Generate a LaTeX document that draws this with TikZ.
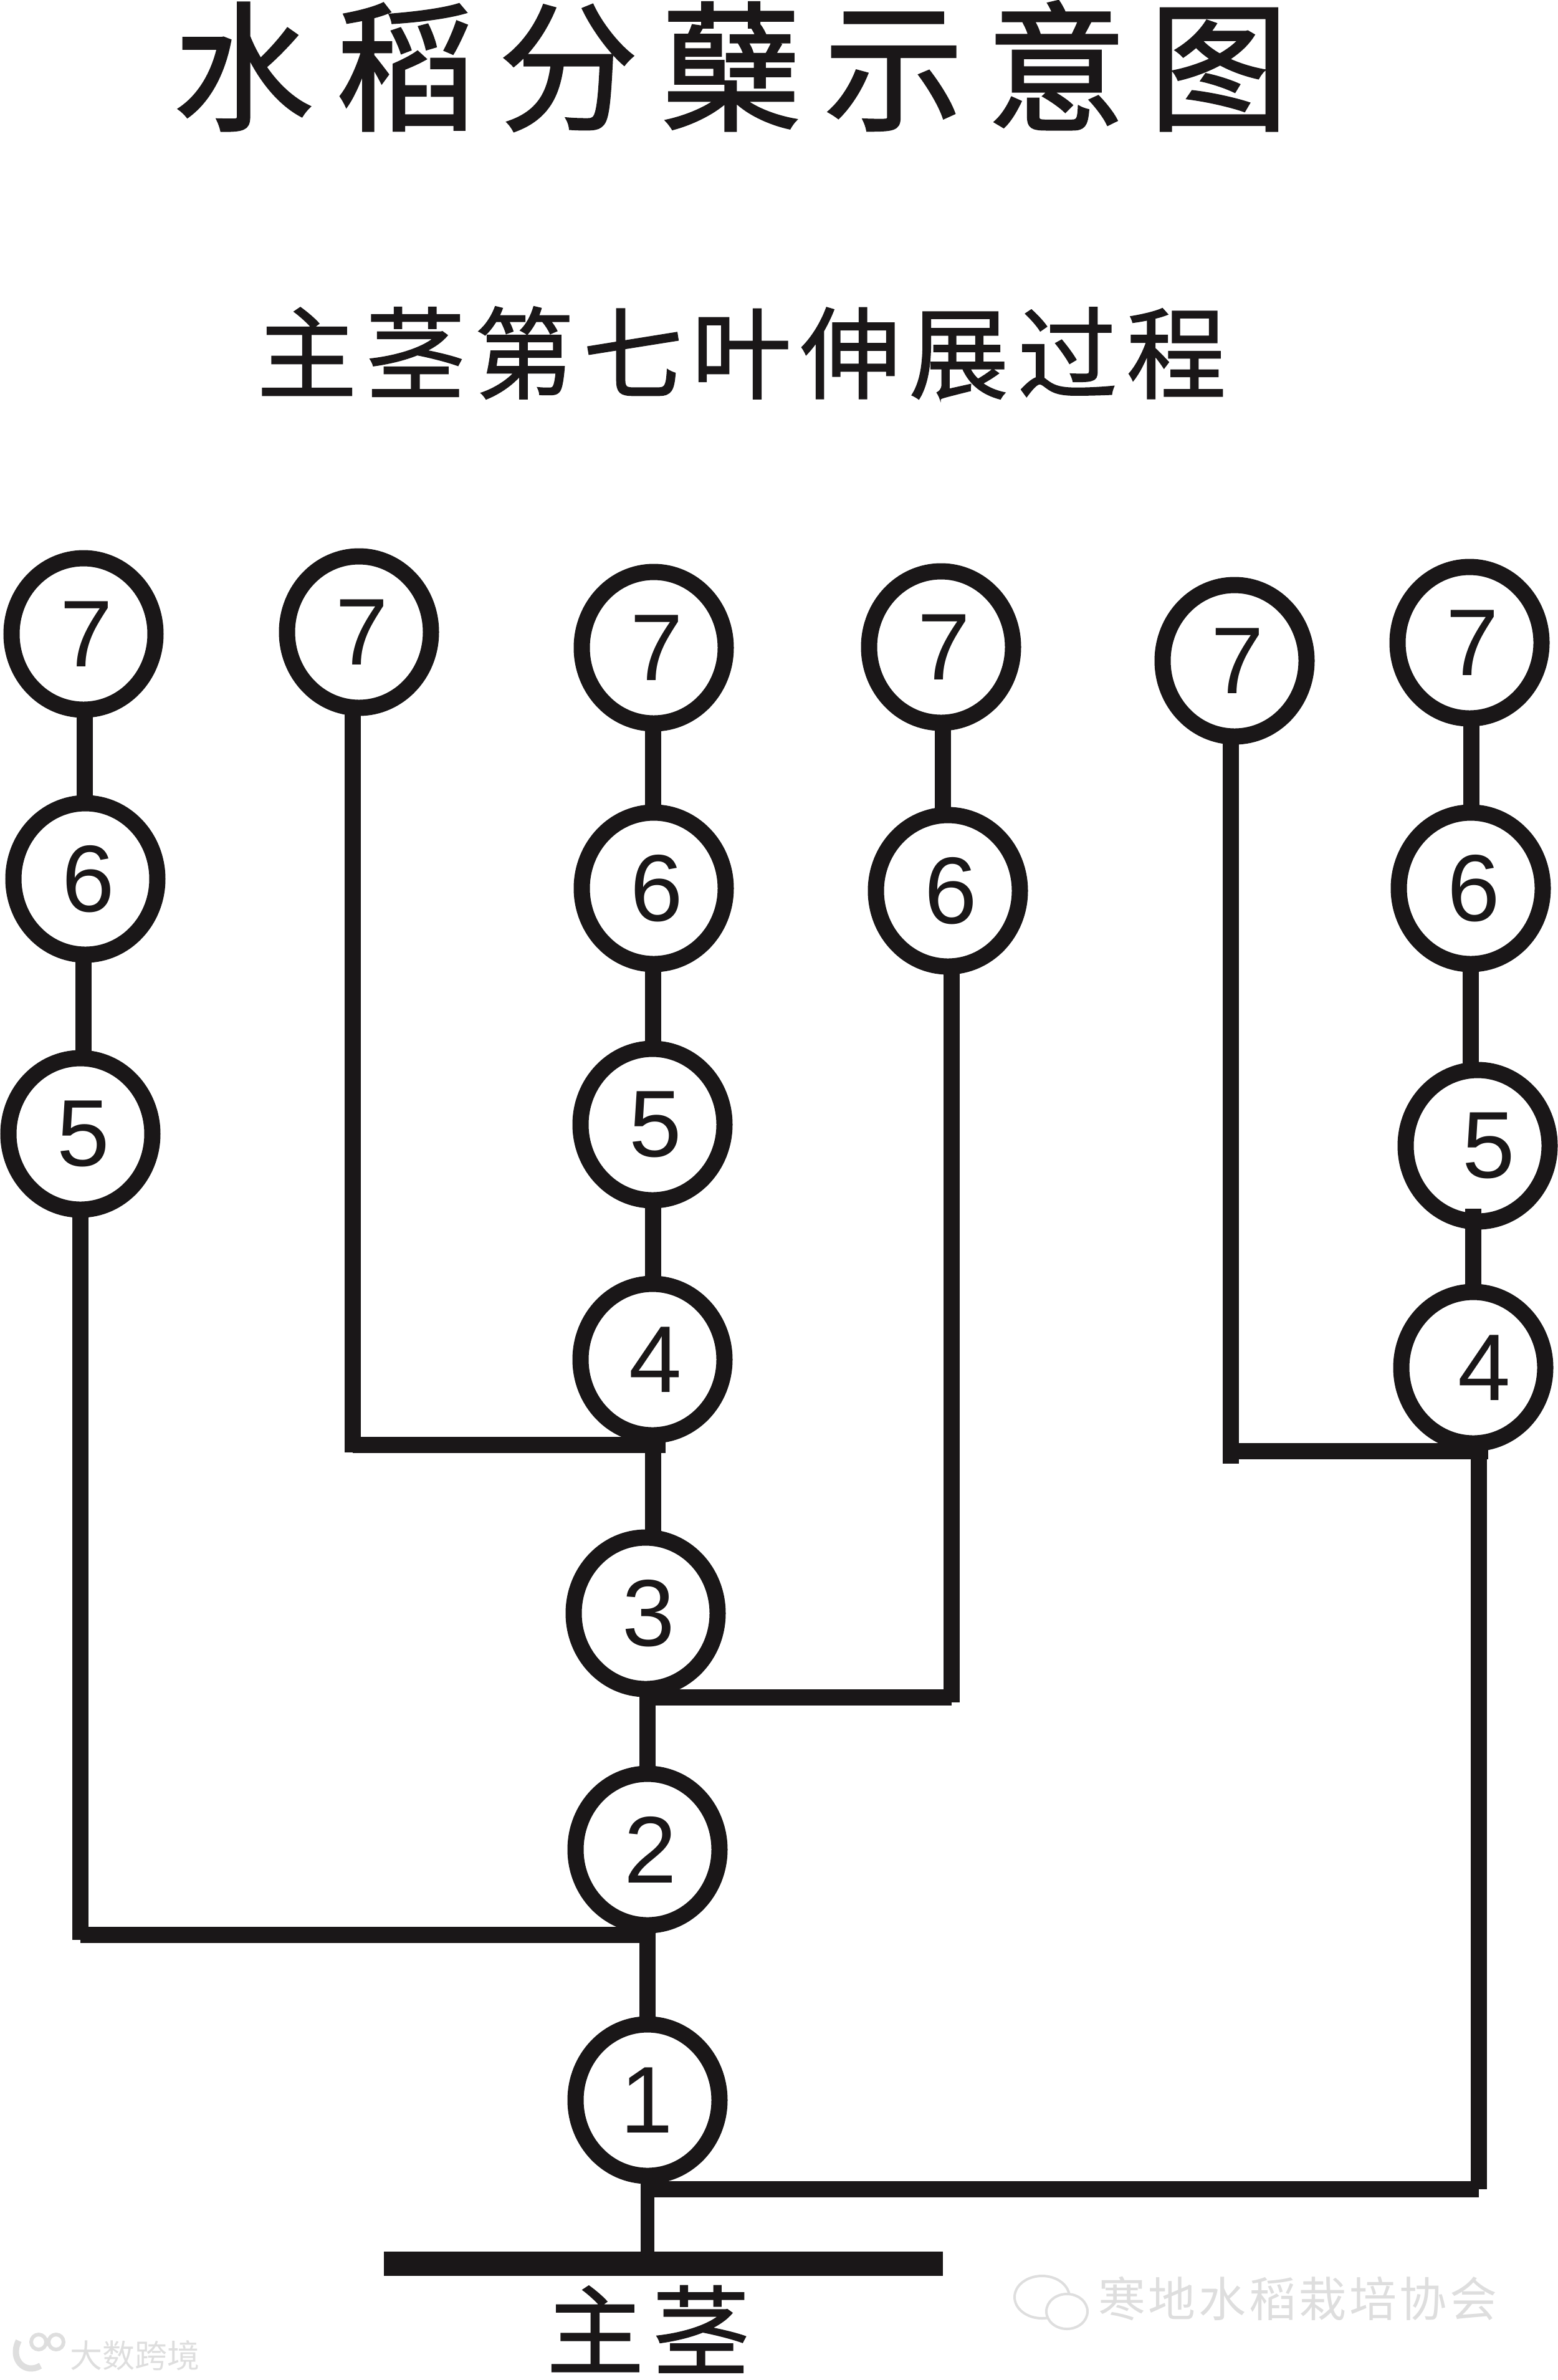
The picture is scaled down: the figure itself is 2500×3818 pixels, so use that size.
\documentclass[tikz,border=0pt]{standalone}
\usepackage{fontspec}
\setmainfont{Liberation Sans}
\newfontfamily\cjktitle[LetterSpace=16.5,FakeBold=1.6]{Noto Sans CJK SC}
\newfontfamily\cjksub[LetterSpace=9,FakeBold=1.2]{Noto Sans CJK SC}
\newfontfamily\cjkmark{Noto Sans CJK SC}
\usetikzlibrary{shapes.geometric}
\definecolor{ink}{HTML}{1A1718}
\definecolor{wm}{HTML}{DEDEDE}
\tikzset{
  leaf/.style={ellipse,draw=ink,fill=white,line width=13pt,minimum width=115.5pt,minimum height=121.5pt,inner sep=0pt,outer sep=0pt,text=ink,font=\fontsize{76}{76}\selectfont,execute at begin node=\hspace*{5pt}},
  wire/.style={draw=ink,line width=13pt,line cap=butt},
  headtext/.style={anchor=west,text=ink,inner sep=0pt}
}
\begin{document}
\begin{tikzpicture}[x=0.5pt,y=-0.5pt]
\useasboundingbox (0,0) rectangle (2500,3818);
\node[headtext,font=\fontsize{112}{112}\selectfont\cjktitle] (title) at (278,106) {水稻分蘖示意图};
\node[headtext,font=\fontsize{80}{80}\selectfont\cjksub] (sub) at (412,566) {主茎第七叶伸展过程};
\node[leaf] (a7) at (134,1017) {7};
\node[leaf] (a6) at (137,1410) {6};
\node[leaf] (a5) at (129,1819) {5};
\node[leaf] (b7) at (576,1014) {7};
\node[leaf] (c7) at (1049,1039) {7};
\node[leaf] (c6) at (1049,1425) {6};
\node[leaf] (c5) at (1047,1804) {5};
\node[leaf] (c4) at (1047,2181) {4};
\node[leaf] (c3) at (1036,2588) {3};
\node[leaf] (c2) at (1039,2967) {2};
\node[leaf] (c1) at (1039,3369) {\hspace*{-6pt}1};
\node[leaf] (d7) at (1510,1038) {7};
\node[leaf] (d6) at (1521,1429) {6};
\node[leaf] (e7) at (1981,1060) {7};
\node[leaf] (f7) at (2358,1031) {7};
\node[leaf] (f6) at (2360,1425) {6};
\node[leaf] (f5) at (2371,1838) {\hspace*{13pt}5};
\node[leaf] (f4) at (2364,2194) {\hspace*{13pt}4};
\node[fill=ink,minimum width=448.5pt,minimum height=19.5pt,inner sep=0pt,outer sep=0pt] (bar) at (1064.5,3631.5) {};
\node[anchor=north,text=ink,inner sep=0pt,font=\fontsize{78}{78}\selectfont\cjksub] (stem) at (1040,3666) {主茎};
% x positions of the wires
\coordinate (xa) at (136,0);
\coordinate (xa2) at (134,0);
\coordinate (xa3) at (129,0);
\coordinate (xb) at (566,0);
\coordinate (xc) at (1048,0);
\coordinate (xm) at (1039,0);
\coordinate (xd) at (1513,0);
\coordinate (xd2) at (1527,0);
\coordinate (xe) at (1975,0);
\coordinate (xf) at (2361,0);
\coordinate (xf2) at (2360,0);
\coordinate (xf3) at (2364,0);
\coordinate (xr) at (2373,0);
% junctions
\coordinate (j1) at (1039,3512);
\coordinate (jr) at (2373,3512);
\coordinate (j2) at (1033,3104);
\coordinate (ja) at (129,3104);
\coordinate (jat) at (129,3112);
\coordinate (j3) at (1039,2723);
\coordinate (jd) at (1527,2723);
\coordinate (jdt) at (1527,2731);
\coordinate (j4) at (1068,2318);
\coordinate (jb) at (566,2318);
\coordinate (jbt) at (566,2330);
\coordinate (j5) at (2388,2328);
\coordinate (je) at (1975,2328);
\coordinate (jet) at (1975,2348);
\coordinate (jrt) at (2373,2328);
\coordinate (f5tip) at (2364,1939);
\path[wire] (a7.south -| xa) -- (a6.north -| xa);
\path[wire] (a6.south -| xa2) -- (a5.north -| xa2);
\path[wire] (c7.south -| xc) -- (c6.north -| xc);
\path[wire] (c6.south -| xc) -- (c5.north -| xc);
\path[wire] (c5.south -| xc) -- (c4.north -| xc);
\path[wire] (c4.south -| xc) -- (c3.north -| xc);
\path[wire] (c3.south -| xm) -- (c2.north -| xm);
\path[wire] (c2.south -| xm) -- (c1.north -| xm);
\path[wire,line width=11pt] (c1.south -| xm) -- (bar.north -| xm);
\path[wire] (d7.south -| xd) -- (d6.north -| xd);
\path[wire] (f7.south -| xf) -- (f6.north -| xf);
\path[wire] (f6.south -| xf2) -- (f5.north -| xf2);
\path[wire] (f4.north -| xf3) -- (f5tip);
\path[wire] (a5.south -| xa3) -- (jat);
\path[wire] (ja) -- (j2);
\path[wire] (b7.south -| xb) -- (jbt);
\path[wire] (jb) -- (j4);
\path[wire] (d6.south -| xd2) -- (jdt);
\path[wire] (jd) -- (j3);
\path[wire] (e7.south -| xe) -- (jet);
\path[wire] (je) -- (j5);
\path[wire] (jrt) -- (jr);
\path[wire] (jr) -- (j1);
\node[anchor=west,text=wm,inner sep=0pt,font=\fontsize{38}{38}\selectfont\cjkmark] (wmark) at (1762,3687) {\addfontfeature{LetterSpace=6}寒地水稻栽培协会};
\node[ellipse,draw=wm,line width=2pt,minimum width=44pt,minimum height=34pt,inner sep=0pt] (bub1) at (1672,3685) {};
\node[ellipse,draw=wm,fill=white,line width=2pt,minimum width=33pt,minimum height=28pt,inner sep=0pt] (bub2) at (1712,3708) {};
\node[anchor=west,text=wm,inner sep=0pt,font=\fontsize{26}{26}\selectfont\cjkmark] (wmark2) at (112,3779) {大数跨境};
\node[circle,draw=wm,line width=3pt,minimum size=12pt,inner sep=0pt] (log1) at (62,3757) {};
\node[circle,draw=wm,line width=3pt,minimum size=12pt,inner sep=0pt] (log2) at (90,3757) {};
\draw[wm,line width=5pt] (30,3755) .. controls (15,3785) and (40,3810) .. (65,3795);
\end{tikzpicture}
\end{document}
